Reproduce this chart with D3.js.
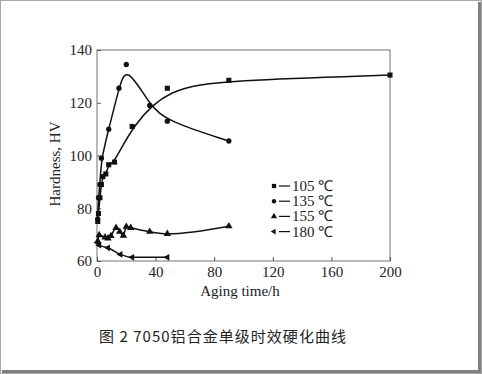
<!DOCTYPE html>
<meta charset="UTF-8">
<html>
<head>
<script src="https://d3js.org/d3.v7.min.js"></script>
<style>
  body { margin: 0; background: #fff; }
  svg text { font-family: "Liberation Serif", "Times New Roman", serif; }
  .cap { font-family: "Noto Sans CJK SC", sans-serif; }
</style>
</head>
<body>
<svg id="chart" width="482" height="374"></svg>
<script>
// aging time (h) and hardness (HV) per aging temperature
var time105 = [0.5, 1, 2, 3, 4, 6, 8, 12, 24, 48, 90, 200];
var hv105   = [75, 78, 84, 89, 92, 93, 96.5, 97.5, 111, 125.5, 128.5, 130.5];
var time135 = [0.5, 1, 2, 3, 8, 15, 20, 36, 48, 90];
var hv135   = [76, 84, 89, 99, 110, 125.5, 134.5, 119, 113, 105.5];
var time155 = [0.5, 1.5, 5.5, 7.5, 9.5, 13, 15.5, 18, 20, 23, 36, 48, 90];
var hv155   = [67.5, 69.8, 69, 68.6, 69.5, 72.6, 71.1, 69.6, 73, 72.6, 71.1, 70.3, 73.2];
var time180 = [0.3, 1.5, 7.5, 16, 24, 48];
var hv180   = [67, 66, 65, 62.5, 61.4, 61.4];

var legendLabels = ["105 \u2103", "135 \u2103", "155 \u2103", "180 \u2103"];
var xTicks = [0, 40, 80, 120, 160, 200];
var yTicks = [60, 80, 100, 120, 140];

var svg = d3.select("#chart");
var W = 482, H = 374;

// picture frame
svg.append("rect").attr("x", 0.5).attr("y", 0.5).attr("width", W - 1).attr("height", H - 1)
   .attr("fill", "#fff").attr("stroke", "#a8a8a8");
svg.append("path").attr("d", "M2," + (H - 2.5) + "H" + (W - 2.5) + "V2")
   .attr("fill", "none").attr("stroke", "#808080").attr("stroke-width", 3);

var x = d3.scaleLinear().domain([0, 200]).range([97, 390]);
var y = d3.scaleLinear().domain([60, 140]).range([261, 50]);

var g = svg.append("g");

g.append("rect").attr("x", x(0)).attr("y", y(140))
 .attr("width", x(200) - x(0)).attr("height", y(60) - y(140))
 .attr("fill", "none").attr("stroke", "#8a8a8a").attr("stroke-width", 1.2);

var xAxis = g.append("g").attr("transform", "translate(0," + y(60) + ")")
  .call(d3.axisBottom(x).tickValues(xTicks).tickSize(-4).tickPadding(5));
var yAxis = g.append("g").attr("transform", "translate(" + x(0) + ",0)")
  .call(d3.axisLeft(y).tickValues(yTicks).tickSize(-4).tickPadding(5));
[xAxis, yAxis].forEach(function(a) {
  a.select(".domain").remove();
  a.selectAll("line").attr("stroke", "#555");
  a.selectAll("text").style("font-family", "'Liberation Serif', serif")
   .style("font-size", "15px").attr("fill", "#222");
});

g.append("text").attr("x", 240).attr("y", 296).attr("text-anchor", "middle")
 .style("font-size", "15px").attr("fill", "#222").text("Aging time/h");
g.append("text").attr("transform", "translate(60,164) rotate(-90)").attr("text-anchor", "middle")
 .style("font-size", "15px").attr("fill", "#222").text("Hardness, HV");

var series = [
  {t: time105, v: hv105, sym: d3.symbolSquare, size: 26, rot: 0, curve: d3.curveBasis},
  {t: time135, v: hv135, sym: d3.symbolCircle, size: 22, rot: 0, curve: d3.curveBasis},
  {t: time155, v: hv155, sym: d3.symbolTriangle, size: 24, rot: 0, curve: d3.curveMonotoneX},
  {t: time180, v: hv180, sym: d3.symbolTriangle, size: 20, rot: -90, curve: d3.curveMonotoneX}
];

series.forEach(function(s) {
  var pts = s.t.map(function(t, i) { return [t, s.v[i]]; });
  var line = d3.line().x(function(d) { return x(d[0]); }).y(function(d) { return y(d[1]); }).curve(s.curve);
  g.append("path").datum(pts).attr("d", line)
   .attr("fill", "none").attr("stroke", "#111").attr("stroke-width", 1.5);
  g.selectAll(null).data(pts).enter().append("path")
   .attr("d", d3.symbol().type(s.sym).size(s.size))
   .attr("transform", function(d) { return "translate(" + x(d[0]) + "," + y(d[1]) + ") rotate(" + s.rot + ")"; })
   .attr("fill", "#111");
});

// legend
var lg = g.append("g");
legendLabels.forEach(function(lab, i) {
  var cy = 186 + i * 15.2;
  var s = series[i];
  lg.append("path").attr("d", d3.symbol().type(s.sym).size(s.size * 0.7))
    .attr("transform", "translate(274," + cy + ") rotate(" + s.rot + ")").attr("fill", "#111");
  lg.append("line").attr("x1", 279).attr("x2", 290).attr("y1", cy).attr("y2", cy)
    .attr("stroke", "#111").attr("stroke-width", 1.2);
  lg.append("text").attr("x", 292).attr("y", cy + 5).style("font-size", "15px")
    .attr("fill", "#222").text(lab);
});

// caption
svg.append("text").attr("class", "cap").attr("x", 99).attr("y", 342)
   .attr("textLength", 247).attr("lengthAdjust", "spacing")
   .style("font-size", "15px").attr("fill", "#222")
   .text("图 2 7050铝合金单级时效硬化曲线");
</script>
</body>
</html>
